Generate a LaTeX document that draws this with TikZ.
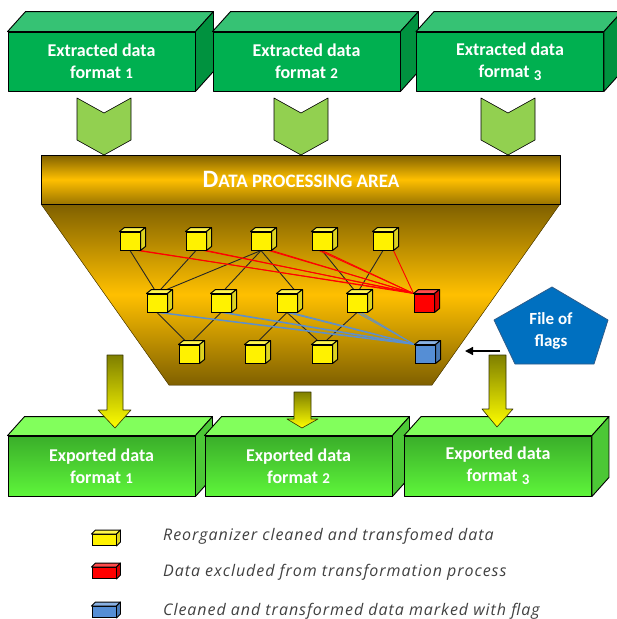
\documentclass[tikz,border=0pt]{standalone}
\usepackage{fontspec}
\setmainfont{Carlito}
\newfontfamily\legfont{Open Sans}[LetterSpace=6]
\usetikzlibrary{calc,arrows.meta}
\definecolor{extfront}{HTML}{00B050}
\definecolor{exttop}{HTML}{36C274}
\definecolor{extside}{HTML}{00923F}
\definecolor{chevfill}{HTML}{92D050}
\definecolor{expdark}{HTML}{3AAE2A}
\definecolor{explight}{HTML}{5EF53A}
\definecolor{exptop}{HTML}{82FF5C}
\definecolor{expside}{HTML}{4CC836}
\definecolor{golddark}{HTML}{7F6000}
\definecolor{gold}{HTML}{FFC000}
\definecolor{goldmid}{HTML}{9C7600}
\definecolor{arrolive}{HTML}{7F7F00}
\definecolor{flagblue}{HTML}{0070C0}
\definecolor{flagedge}{HTML}{2E5C8A}
\definecolor{cubeblue}{HTML}{558ED5}
\definecolor{wireblue}{HTML}{5B8FD0}
\definecolor{legtext}{HTML}{404040}
\pgfdeclarelayer{back}
\pgfdeclarelayer{wires}
\pgfsetlayers{back,wires,main}
\newcommand\mkcube[4]{%
  \node[cubefront, fill=#4] (#1) at (#2,#3) {};
  \draw[cubeedge, fill=#4!70!white] (#1.north west) -- ++(5,-4) -- ($(#1.north east)+(5,-4)$) -- (#1.north east) -- cycle;
  \draw[cubeedge, fill=#4!85!black] (#1.north east) -- ++(5,-4) -- ($(#1.south east)+(5,-4)$) -- (#1.south east) -- cycle;
}
\newcommand\mkleg[4]{%
  \node[legfront, fill=#4] (#1) at (#2,#3) {};
  \draw[legedge, fill=#4!70!white] (#1.north west) -- ++(4,-4) -- ($(#1.north east)+(4,-4)$) -- (#1.north east) -- cycle;
  \draw[legedge, fill=#4!85!black] (#1.north east) -- ++(4,-4) -- ($(#1.south east)+(4,-4)$) -- (#1.south east) -- cycle;
}
% old-style looking figures: small digit, optionally lowered
\newcommand\onum[2]{{\fontsize{15}{22}\selectfont\raisebox{#2pt}{#1}}}
\begin{document}
\begin{tikzpicture}[x=1pt,y=-1pt,
  boxedge/.style={draw=black, line width=0.9pt, line join=round},
  boxtext/.style={align=center, text=white, font=\bfseries\fontsize{18}{22}\selectfont},
  extbox/.style={boxedge, boxtext, fill=extfront, minimum width=187pt, minimum height=59pt, inner sep=0pt},
  expbox/.style={boxedge, boxtext, top color=expdark, bottom color=explight, minimum width=187pt, minimum height=60pt, inner sep=0pt},
  chev/.style={draw=black, line width=0.6pt, fill=chevfill, line join=round},
  cubefront/.style={draw=black, line width=1pt, minimum width=20pt, minimum height=18pt, inner sep=0pt},
  cubeedge/.style={draw=black, line width=1pt, line join=round},
  legfront/.style={draw=black, line width=0.9pt, minimum width=24pt, minimum height=11pt, inner sep=0pt},
  legedge/.style={draw=black, line width=0.9pt, line join=round},
  wire/.style={draw=black!85, line width=0.9pt},
  redwire/.style={draw=red, line width=0.9pt},
  bluewire/.style={draw=wireblue, line width=0.9pt},
  yarrow/.style={draw=black!60!arrolive, line width=0.6pt, top color=arrolive, bottom color=yellow, line join=round},
  legtxt/.style={anchor=west, text=legtext, font=\legfont\itshape\fontsize{16}{18}\selectfont, inner sep=0pt}
]
\useasboundingbox (0,0) rectangle (617,619);

% ---- extracted boxes ----
\foreach \n/\cx/\t/\r in {e1/101.5/1/0, e2/306.5/2/0, e3/510/3/-3}{
  \node[extbox] (\n) at (\cx,61.5) {Extracted data\\format \onum{\t}{\r}};
  \draw[boxedge, fill=exttop] (\n.north west) -- ++(18,-20) -- ($(\n.north east)+(18,-20)$) -- (\n.north east) -- cycle;
  \draw[boxedge, fill=extside] (\n.north east) -- ++(18,-20) -- ($(\n.south east)+(18,-20)$) -- (\n.south east) -- cycle;
}

% ---- chevrons ----
\foreach \cx in {104,301,508}{
  \draw[chev] (\cx-27,98) -- (\cx,113) -- (\cx+27,98) -- (\cx+27,140) -- (\cx,155) -- (\cx-27,140) -- cycle;
}

% ---- processing area ----
\begin{pgfonlayer}{back}
  \fill[top color=golddark, bottom color=golddark, middle color=gold] (41,204) -- (560,204) -- (432,385) -- (169,385) -- cycle;
  \draw[draw=golddark!70!black, line width=0.5pt] (41,204) -- (169,385) -- (432,385) -- (560,204);
\end{pgfonlayer}
\node[boxedge, top color=golddark, bottom color=goldmid, middle color=gold, minimum width=519pt, minimum height=49pt, inner sep=0pt, text=white] (dpa) at (301,179.5)
  {\bfseries\fontsize{25}{26}\selectfont D\fontsize{19}{26}\selectfont ATA PROCESSING AREA};

% ---- cubes ----
\mkcube{c1}{130}{241}{yellow}
\mkcube{c2}{196}{241}{yellow}
\mkcube{c3}{261}{241}{yellow}
\mkcube{c4}{322}{241}{yellow}
\mkcube{c5}{383}{241}{yellow}
\mkcube{c6}{157}{303}{yellow}
\mkcube{c7}{221}{303}{yellow}
\mkcube{c8}{287}{303}{yellow}
\mkcube{c9}{357}{303}{yellow}
\mkcube{cr}{424}{303}{red}
\mkcube{c10}{189}{354}{yellow}
\mkcube{c11}{255}{354}{yellow}
\mkcube{c12}{322}{354}{yellow}
\mkcube{cb}{425}{354}{cubeblue}

\begin{pgfonlayer}{wires}
  \draw[wire] (c1.south) -- (c6.north);
  \draw[wire] (c2.south) -- (c6.north);
  \draw[wire] (c3.south) -- (c6.north);
  \draw[wire] (c3.south) -- (c7.north);
  \draw[wire] (c3.south) -- (c8.north east);
  \draw[wire] (c4.south) -- (c9.north);
  \draw[wire] (c5.south) -- (c9.north);
  \draw[wire] (c6.south) -- (c10.north);
  \draw[wire] (c7.south) -- (c10.north);
  \draw[wire] (c8.south) -- (c11.north);
  \draw[wire] (c8.south) -- (c12.north);
  \draw[wire] (c9.south) -- (c12.north);
  \foreach \s in {c1,c2,c3}{
    \draw[redwire] (\s.south east) -- (cr.north west);
    \draw[redwire] ($(\s.south east)+(-3,0)$) -- ($(cr.north west)+(-2,-1)$);
  }
  \draw[redwire] (c4.south) -- (cr.north west);
  \draw[redwire] ($(c4.south)+(-3,0)$) -- ($(cr.north west)+(-2,-1)$);
  \draw[redwire] (c5.south east) -- (cr.north west);
  \foreach \s in {c6,c7,c8,c9}{
    \draw[bluewire] (\s.south) -- (cb.north west);
    \draw[bluewire] ($(\s.south)+(4,0)$) -- ($(cb.north west)+(-2,-1)$);
  }
\end{pgfonlayer}

% ---- file of flags ----
\draw[draw=flagedge, line width=0.8pt, fill=flagblue, line join=round] (552,287) -- (608,320) -- (594,364) -- (515,364) -- (494,320) -- cycle;
\node[boxtext, font=\bfseries\fontsize{17}{22}\selectfont] (flags) at (551,331) {File of\\flags};
\coordinate (fstart) at (500,351);
\coordinate (fend) at (465,351);
\draw[line width=1.4pt, -{Triangle[length=8pt,width=8pt]}] (fstart) -- (fend);

% ---- exported boxes ----
\foreach \n/\cx/\t/\r in {x1/101.5/1/0, x2/298.5/2/0, x3/498/3/-3}{
  \node[expbox] (\n) at (\cx,466) {Exported data\\format \onum{\t}{\r}};
  \draw[boxedge, fill=exptop] (\n.north west) -- ++(17,-19) -- ($(\n.north east)+(17,-19)$) -- (\n.north east) -- cycle;
  \draw[boxedge, fill=expside] (\n.north east) -- ++(17,-19) -- ($(\n.south east)+(17,-19)$) -- (\n.south east) -- cycle;
}

% ---- yellow arrows ----
\draw[yarrow] (107,355) -- (123,355) -- (123,410) -- (131,410) -- (115,428) -- (98,410) -- (107,410) -- cycle;
\draw[yarrow] (294,392) -- (311,392) -- (311,419) -- (318,419) -- (302,428) -- (287,419) -- (294,419) -- cycle;
\draw[yarrow] (489,355) -- (506,355) -- (506,409) -- (513,409) -- (497,427) -- (482,409) -- (489,409) -- cycle;

% ---- legend ----
\mkleg{l1}{104}{540}{yellow}
\mkleg{l2}{104}{573}{red}
\mkleg{l3}{104}{612}{cubeblue}
\node[legtxt] (t1) at (163,536) {Reorganizer cleaned and transfomed data};
\node[legtxt] (t2) at (163,572) {Data excluded from transformation process};
\node[legtxt] (t3) at (163,611) {Cleaned and transformed data marked with flag};
\end{tikzpicture}
\end{document}
